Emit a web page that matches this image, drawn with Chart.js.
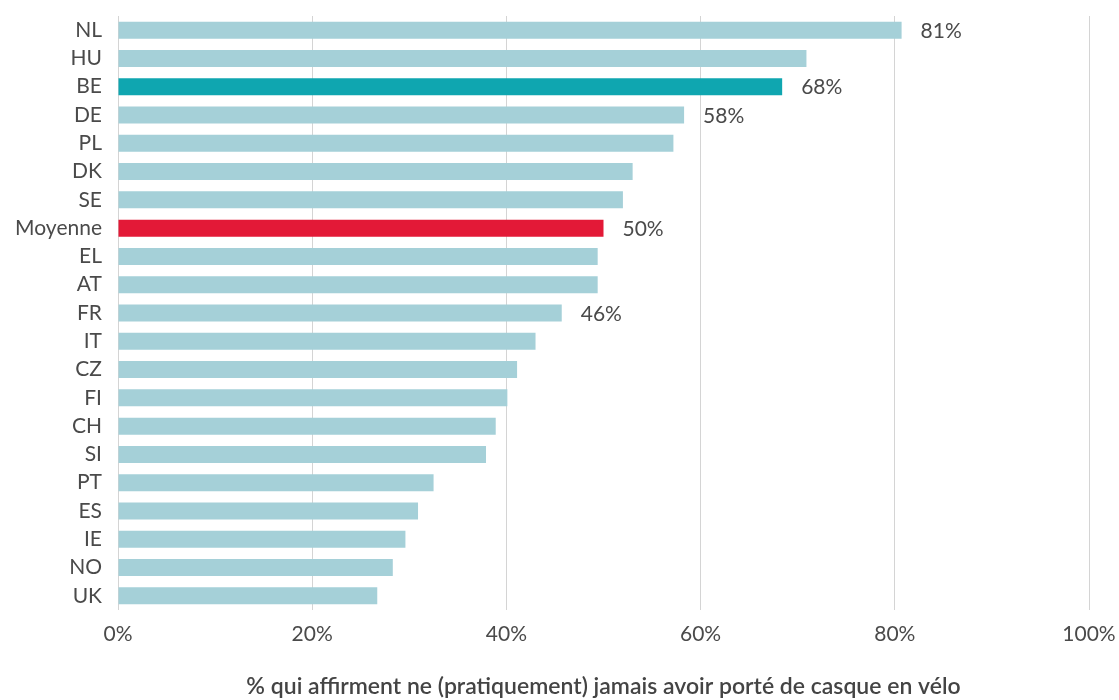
<!DOCTYPE html>
<html>
<head>
<meta charset="utf-8">
<script src="https://cdn.jsdelivr.net/npm/chart.js@4/dist/chart.umd.min.js"></script>
<style>
  html, body { margin: 0; padding: 0; background: #fff; }
  #wrap { width: 1119px; height: 700px; }
</style>
</head>
<body>
<div id="wrap"><canvas id="myChart"></canvas></div>
<script>
const countries = ["NL", "HU", "BE", "DE", "PL", "DK", "SE", "Moyenne", "EL", "AT", "FR",
  "IT", "CZ", "FI", "CH", "SI", "PT", "ES", "IE", "NO", "UK"];
const shares = [80.7, 70.9, 68.4, 58.3, 57.2, 53.0, 52.0, 50.0, 49.4, 49.4, 45.7,
  43.0, 41.1, 40.1, 38.9, 37.9, 32.5, 30.9, 29.6, 28.3, 26.7];
const labelled = ["NL", "BE", "DE", "Moyenne", "FR"];
const xTicks = [0, 20, 40, 60, 80, 100];
const axisTitle = "% qui affirment ne (pratiquement) jamais avoir porté de casque en vélo";

const FONT = "Lato, 'Open Sans', sans-serif";

const colors = countries.map((c) => {
  if (c == "BE") return "#0fa6b0";
  if (c == "Moyenne") return "#e31937";
  return "#a5d0d8";
});

// value labels on a few bars only
const valueLabels = {
  id: "valueLabels",
  afterDatasetsDraw(chart) {
    const c = chart.ctx;
    const meta = chart.getDatasetMeta(0);
    c.save();
    c.font = "21px " + FONT;
    c.fillStyle = "#4a4a4a";
    c.textAlign = "left";
    c.textBaseline = "middle";
    meta.data.forEach((bar, i) => {
      if (!labelled.includes(countries[i])) return;
      c.fillText(Math.round(shares[i]) + "%", bar.x + 19, bar.y + 1);
    });
    c.restore();
  },
};

const ctx = document.getElementById("myChart");
new Chart(ctx, {
  type: "bar",
  data: {
    labels: countries,
    datasets: [
      {
        data: shares,
        backgroundColor: colors,
        barPercentage: 0.6,
        categoryPercentage: 1,
      },
    ],
  },
  options: {
    indexAxis: "y",
    responsive: true,
    maintainAspectRatio: false,
    animation: false,
    layout: { padding: { top: 16, right: 30, left: 0, bottom: 0 } },
    plugins: {
      legend: { display: false },
      tooltip: { enabled: false },
    },
    scales: {
      x: {
        min: 0,
        max: 100,
        afterBuildTicks: (scale) => {
          scale.ticks = xTicks.map((v) => ({ value: v }));
        },
        afterFit: (scale) => {
          scale.height = 90;
          scale.paddingLeft = 0;
          scale.paddingRight = 0;
        },
        grid: { color: "#d4d4d4", lineWidth: 1, drawTicks: false },
        border: { display: false },
        ticks: {
          padding: 12,
          color: "#4a4a4a",
          font: { family: FONT, size: 21 },
          callback: (v) => v + "%",
        },
        title: {
          display: true,
          text: axisTitle,
          color: "#444",
          font: { family: FONT, size: 23, weight: "600" },
          padding: { top: 0, bottom: 0 },
        },
      },
      y: {
        afterFit: (scale) => {
          scale.width = 118;
          scale.paddingTop = 0;
          scale.paddingBottom = 0;
        },
        grid: { display: false, drawTicks: false },
        border: { display: false },
        ticks: {
          padding: 16,
          color: "#4a4a4a",
          font: { family: FONT, size: 21 },
        },
      },
    },
  },
  plugins: [valueLabels],
});
</script>
</body>
</html>
